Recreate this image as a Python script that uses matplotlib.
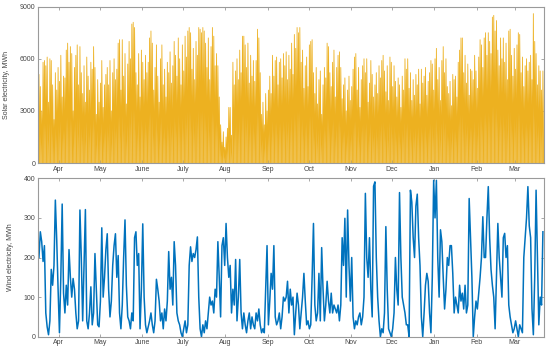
import numpy as np
import matplotlib
matplotlib.use("Agg")
import matplotlib.pyplot as plt

plt.rcParams['font.family'] = ['Liberation Sans', 'DejaVu Sans']

# month labels and their (mid-month) positions in days from Mar 31
months = ['Apr', 'May', 'June', 'July', 'Aug', 'Sep', 'Oct', 'Nov', 'Dec', 'Jan', 'Feb', 'Mar']
month_days = [15, 45, 76, 106, 137, 168, 198, 229, 259, 290, 321, 349]

# daily (midday) peak of solar electricity, MWh; zero at night
solar_peak = [
    5100, 4400, 3000, 5800, 5900, 5600, 6100, 3500, 6000, 5900,
    4500, 2500, 5200, 4200, 5500, 4700, 6200, 3800, 5000, 4900,
    6500, 6900, 5800, 6700, 6300, 3000, 5500, 6200, 6800, 4500,
    6700, 5200, 4000, 5600, 3500, 6100, 5000, 4200, 5800, 5400,
    6700, 5500, 2800, 4800, 3500, 4600, 5900, 3200, 4500, 5100,
    5500, 4500, 5900, 3000, 5200, 6000, 4800, 5400, 6900, 7100,
    4200, 7100, 5000, 6300, 3400, 5700, 7000, 6000, 8000, 8100,
    7800, 5200, 4500, 6300, 3800, 6500, 5800, 4800, 6200, 5200,
    5800, 7200, 7600, 6900, 4200, 5500, 6800, 5000, 3500, 6000,
    6800, 4500, 5400, 3800, 5800, 5200, 6400, 4600, 5600, 7000,
    6200, 5000, 7200, 6000, 4500, 6800, 5300, 7300, 6100, 7600,
    7800, 7500, 5400, 6600, 4800, 7000, 6200, 7800, 7700, 7500,
    7800, 7600, 6900, 5500, 7200, 4800, 6700, 7800, 7300, 5600,
    6300, 5600, 3800, 2200, 1200, 1800, 900, 1500, 2000, 3200,
    3200, 1600, 5800, 4500, 5300, 6000, 4800, 6500, 5200, 7300,
    7300, 6800, 5500, 6900, 4600, 6200, 5000, 5900, 4700, 5900,
    7700, 7200, 5200, 2800, 3500, 2200, 4000, 3000, 4200, 5000,
    4000, 6200, 5000, 5900, 6100, 4500, 5800, 6000, 4900, 6300,
    5600, 6400, 4800, 6200, 5400, 6900, 5100, 7400, 6600, 7800,
    7500, 7800, 5800, 6500, 4300, 5600, 6100, 4400, 6800, 7000,
    7100, 5200, 4000, 5500, 3400, 4800, 5300, 2800, 4500, 5500,
    4900, 6900, 6700, 5200, 4400, 5800, 6500, 3800, 5500, 6200,
    6400, 5500, 3700, 4500, 4900, 3000, 4200, 5000, 3600, 4400,
    5400, 6100, 6300, 4200, 5500, 3200, 4800, 5600, 6000, 5200,
    6000, 3500, 4600, 5900, 5100, 3800, 4500, 5200, 4000, 5600,
    4900, 5900, 6200, 5300, 4100, 5600, 3600, 6100, 5800, 4400,
    5600, 4700, 3800, 4900, 4500, 3200, 5000, 4200, 6000, 5400,
    6000, 4300, 5200, 3600, 4800, 3900, 5100, 4500, 5400, 3400,
    5400, 4600, 5000, 5500, 3900, 4700, 5200, 5900, 5700, 4200,
    6000, 6600, 4800, 5500, 3600, 5900, 6700, 5200, 6000, 4400,
    4000, 4700, 3300, 5100, 4800, 5000, 3800, 5800, 6500, 7200,
    7200, 5200, 6200, 4600, 5700, 3900, 5400, 5300, 4800, 6200,
    5300, 4300, 6100, 7100, 6800, 5500, 7200, 7500, 6200, 7500,
    7000, 6300, 8400, 8500, 7600, 8200, 6500, 5600, 7200, 6000,
    7200, 5800, 6900, 4800, 7600, 7700, 6200, 5000, 6600, 5400,
    6800, 7500, 7400, 5200, 6100, 4400, 5600, 6000, 5300, 5800,
    6200, 4800, 8600, 7000, 6300, 4500, 5600, 5300, 4200, 5300,
]

# daily wind electricity, MWh
wind = [
    200, 265, 240, 190, 230, 60, 25, 5, 40, 170,
    130, 180, 345, 245, 120, 10, 150, 335, 110, 60,
    130, 80, 220, 150, 100, 147, 120, 60, 20, 40,
    320, 200, 40, 180, 321, 40, 20, 60, 126, 30,
    60, 210, 120, 30, 25, 90, 275, 100, 150, 220,
    260, 120, 50, 90, 180, 230, 260, 150, 205, 60,
    20, 80, 200, 295, 130, 50, 40, 20, 60, 40,
    250, 265, 180, 210, 20, 120, 285, 100, 30, 10,
    25, 40, 60, 30, 10, 40, 145, 120, 90, 40,
    60, 20, 70, 40, 90, 215, 120, 150, 80, 240,
    180, 60, 40, 30, 10, 0, 20, 40, 10, 30,
    180, 227, 190, 210, 200, 220, 252, 100, 20, 0,
    30, 10, 40, 20, 60, 100, 80, 90, 60, 120,
    100, 240, 150, 50, 230, 250, 180, 286, 200, 150,
    180, 60, 120, 80, 195, 40, 100, 195, 60, 20,
    60, 30, 10, 40, 60, 20, 50, 30, 20, 60,
    40, 70, 30, 10, 20, 10, 120, 230, 30, 90,
    160, 120, 230, 50, 30, 40, 60, 20, 50, 100,
    90, 100, 140, 60, 120, 80, 100, 5, 60, 110,
    80, 20, 60, 100, 160, 90, 30, 40, 20, 30,
    150, 286, 80, 40, 60, 160, 40, 225, 120, 40,
    80, 140, 90, 60, 110, 60, 80, 70, 60, 80,
    40, 80, 250, 180, 299, 100, 320, 180, 90, 200,
    50, 20, 40, 30, 50, 60, 30, 50, 100, 362,
    200, 150, 250, 120, 50, 380, 391, 200, 100, 40,
    0, 20, 10, 60, 278, 120, 20, 10, 0, 20,
    60, 200, 120, 80, 364, 200, 100, 80, 60, 30,
    30, 0, 370, 340, 250, 200, 330, 360, 250, 180,
    50, 0, 60, 130, 160, 140, 60, 10, 150, 395,
    300, 395, 200, 100, 270, 240, 150, 70, 120, 200,
    180, 230, 230, 160, 60, 100, 80, 60, 130, 90,
    110, 70, 130, 60, 80, 349, 250, 150, 0, 50,
    90, 70, 110, 150, 200, 303, 200, 200, 300, 379,
    250, 170, 130, 100, 20, 150, 286, 200, 150, 100,
    250, 261, 200, 230, 80, 50, 30, 10, 20, 40,
    20, 0, 30, 20, 10, 200, 250, 300, 379, 280,
    250, 70, 5, 150, 370, 200, 30, 100, 80, 265,
]

solar_color = (0.929, 0.694, 0.125)
wind_color = (0.0, 0.447, 0.741)
frame = '#9a9a9a'

# solar series: night (0) at the start of each day, peak at midday
n = len(solar_peak)
t_solar = np.empty(2 * n + 1)
t_solar[0::2] = np.arange(n + 1)
t_solar[1::2] = np.arange(n) + 0.5
e_solar = np.zeros(2 * n + 1)
e_solar[1::2] = solar_peak

fig = plt.figure(figsize=(5.5, 3.51), dpi=100)
ax1 = fig.add_axes([0.0696, 0.5356, 0.92, 0.4454])
ax2 = fig.add_axes([0.0696, 0.0407, 0.92, 0.4513])

ax1.fill_between(t_solar, 0, e_solar, color=solar_color, alpha=0.6, lw=0)
ax1.plot(t_solar, e_solar, color=solar_color, lw=0.6)
ax1.set_ylim(0, 9000)
ax1.set_yticks([0, 3000, 6000, 9000])
ax1.set_ylabel('Solar electricity, MWh', fontsize=5, color='#444444', labelpad=7)

days_w = np.arange(len(wind)) + 0.5
ax2.plot(days_w, wind, color=wind_color, lw=1.1)
ax2.set_ylim(0, 400)
ax2.set_yticks([0, 100, 200, 300, 400])
ax2.set_ylabel('Wind electricity, MWh', fontsize=5, color='#444444', labelpad=7)

for ax in (ax1, ax2):
    ax.set_xlim(0, 370.5)
    ax.set_xticks(month_days)
    ax.set_xticklabels(months)
    ax.tick_params(direction='in', top=True, right=True, length=2.5, width=0.6,
                   labelsize=5, colors=frame, labelcolor='#444444', pad=2)
    for s in ax.spines.values():
        s.set_color(frame)
        s.set_linewidth(0.8)

fig.savefig('out.png', dpi=100)
